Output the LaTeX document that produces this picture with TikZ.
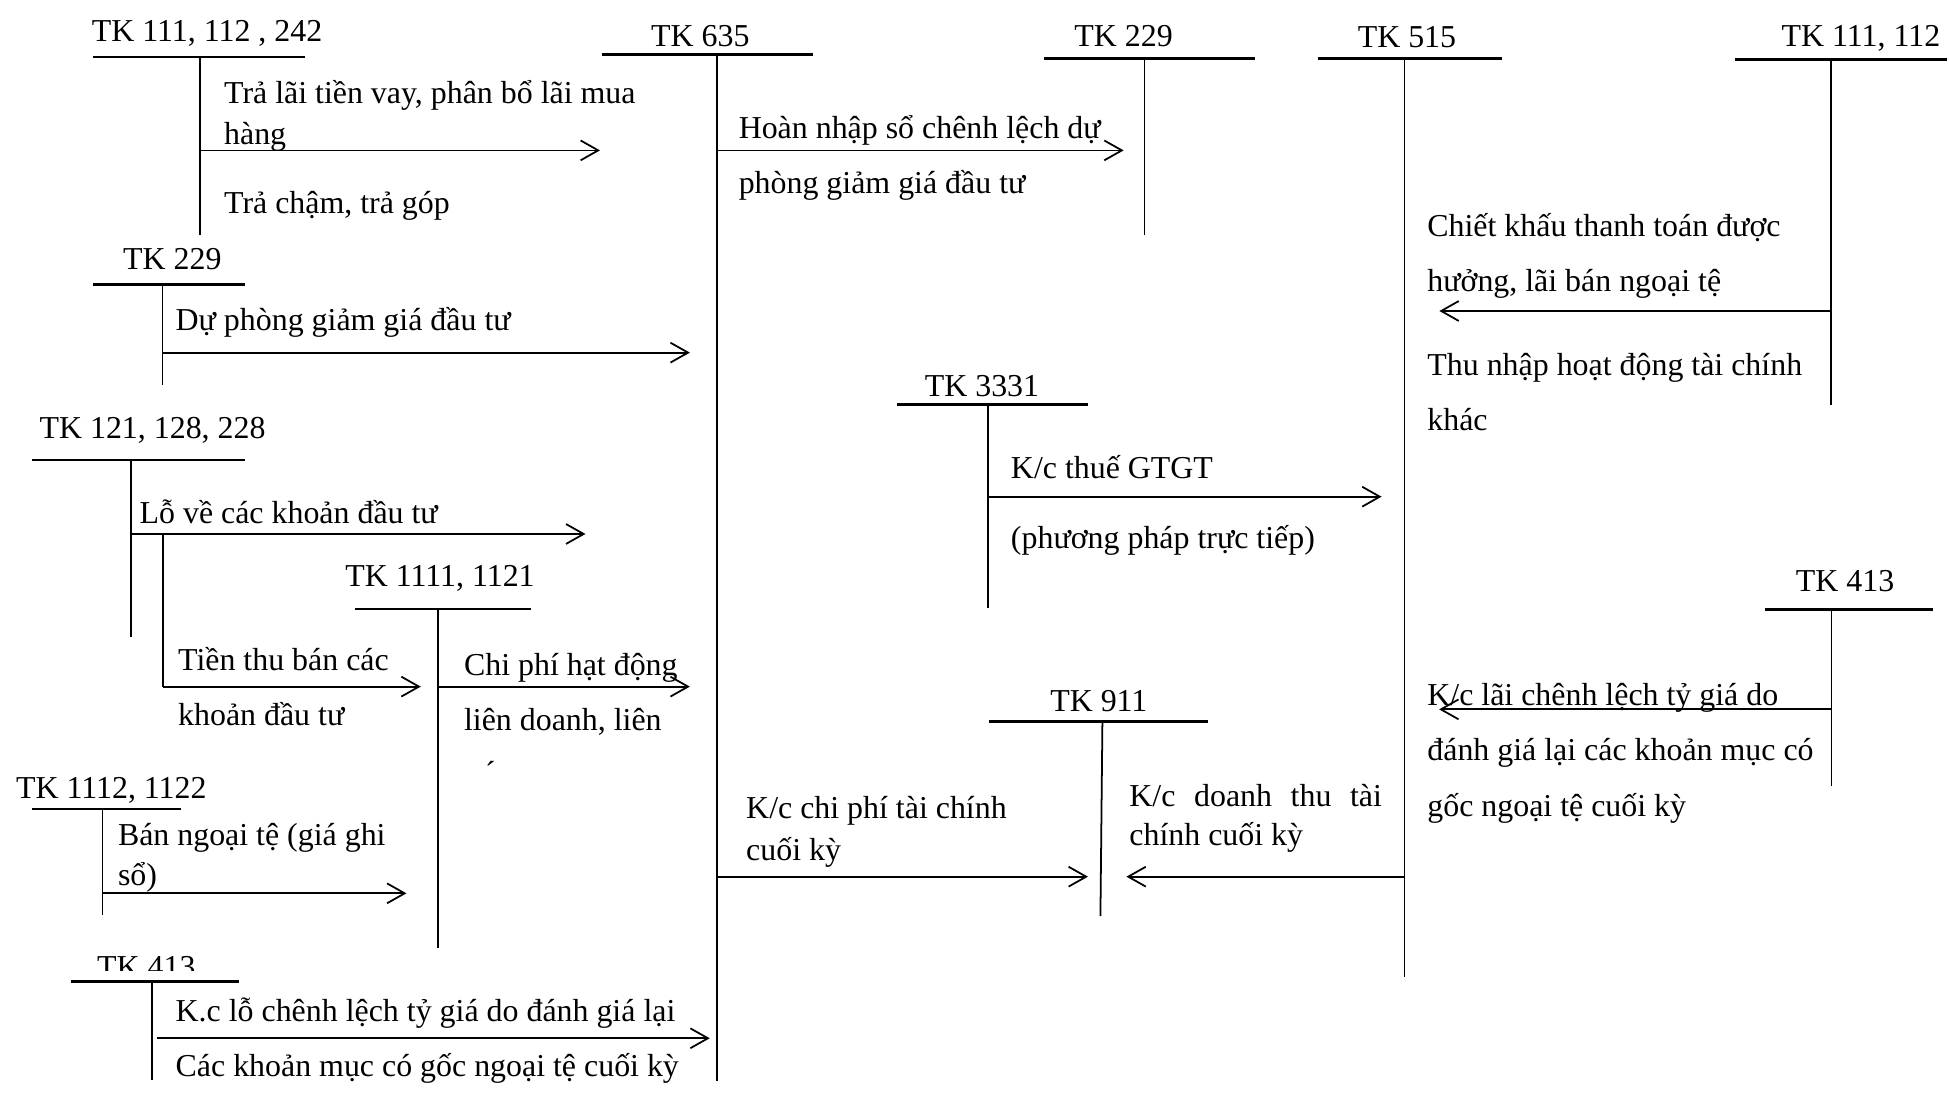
\documentclass[tikz,border=0pt]{standalone}
\usepackage{fontspec}
\setmainfont{Liberation Serif}
\usetikzlibrary{arrows.meta}
\begin{document}
\begin{tikzpicture}[x=0.6pt,y=-0.6pt,
  bar/.style={line width=1.2pt},
  stem/.style={line width=0.85pt},
  flow/.style={line width=0.85pt,-{Straight Barb[length=8.5pt,width=9.6pt,line width=0.85pt]}},
  txt/.style={anchor=base west,inner sep=0pt,yshift=-0.9pt,font=\fontsize{15.4}{18}\selectfont},
]
\useasboundingbox (0,0) rectangle (1568,879);

% T-account: name, stem x, bar y, stem bottom, bar left, bar right
\newcommand\tacct[6]{%
  \coordinate (#1) at (#2,#3);
  \draw[bar] (#5,#3) -- (#6,#3);
  \draw[stem] (#1) -- (#2,#4);
}

% ---- account headings ----
\node[txt] (h242)  at (73.6,31.6)  {TK 111, 112 , 242};
\node[txt] (h635)  at (523.5,36)   {TK 635};
\node[txt] (h229a) at (864,36)     {TK 229};
\node[txt] (h515)  at (1092,36.7)  {TK 515};
\node[txt] (h112)  at (1433,36)    {TK 111, 112};
\node[txt] (h229b) at (98.8,215)   {TK 229};
\node[txt] (h228)  at (31.5,351)   {TK 121, 128, 228};
\node[txt] (h1121) at (277.5,470.6) {TK 1111, 1121};
\node[txt] (h1122) at (12.6,641)   {TK 1112, 1122};
\begin{scope}
  \clip (0,740) rectangle (300,781);
  \node[txt] (h413a) at (77.8,785) {TK 413};
\end{scope}
\node[txt] (h3331) at (743.7,317.8) {TK 3331};
\node[txt] (h413b) at (1444.5,474.7) {TK 413};
\node[txt] (h911)  at (844.6,571)  {TK 911};

% ---- T-accounts ----
\tacct{t242}{161}{46}{189}{75}{245}
\tacct{t635}{577}{44}{870}{484}{654}
\tacct{t229a}{920.7}{47}{189}{840}{1010}
\tacct{t515}{1130}{47}{786}{1060}{1208}
\tacct{t112}{1473}{47.7}{325.8}{1396}{1566}
\tacct{t229b}{130.8}{229}{309.7}{75}{197}
\tacct{t228}{105.5}{370}{512.7}{26}{197}
\tacct{t1121}{352.4}{490}{763}{286}{427}
\tacct{t1122}{82.4}{651}{736}{26}{146}
\tacct{t413a}{122.4}{789.8}{869}{56.8}{192.6}
\tacct{t3331}{794.6}{325.3}{489.4}{721.6}{875}
\tacct{t413b}{1473.4}{490.2}{632.4}{1419.6}{1555}
\coordinate (t911) at (886.9,580.6);
\draw[bar] (795.4,580.6) -- (971.9,580.6);
\draw[stem] (t911) -- (885.3,737);

% ---- entries ----
\draw[flow] (t242 |- 0,121) -- (482.7,121);
\node[txt] (l1a) at (180,81.8) {Trả lãi tiền vay, phân bổ lãi mua};
\node[txt] (l1b) at (180,115)  {hàng};
\node[txt] (l1c) at (180,170)  {Trả chậm, trả góp};

\draw[flow] (t635 |- 0,121) -- (904,121);
\node[txt] (l2a) at (594,110) {Hoàn nhập sổ chênh lệch dự};
\node[txt] (l2b) at (594,154) {phòng giảm giá đầu tư};

\draw[flow] (t112 |- 0,250.2) -- (1158,250.2);
\node[txt] (l3a) at (1148,189)   {Chiết khấu thanh toán được};
\node[txt] (l3b) at (1148,233.3) {hưởng, lãi bán ngoại tệ};
\node[txt] (l3c) at (1148,300.3) {Thu nhập hoạt động tài chính};
\node[txt] (l3d) at (1148,344.6) {khác};

\draw[flow] (t229b |- 0,283.7) -- (555,283.7);
\node[txt] (l4) at (141,264) {Dự phòng giảm giá đầu tư};

\draw[flow] (t228 |- 0,429.6) -- (471,429.6);
\node[txt] (l5) at (112,419.7) {Lỗ về các khoản đầu tư};
\coordinate (br) at (131.2,429.6);
\draw[stem] (br) -- (131.2,552.4);
\draw[flow] (131.2,552.4) -- (338.5,552.4);
\node[txt] (l6a) at (143,537.7) {Tiền thu bán các};
\node[txt] (l6b) at (143,582)   {khoản đầu tư};

\draw[flow] (t1121 |- 0,552.4) -- (555,552.4);
\node[txt] (l7a) at (373,541.7) {Chi phí hạt động};
\node[txt] (l7b) at (373,586)   {liên doanh, liên};
\node[txt] (l7c) at (390,629)   {´};

\draw[flow] (t1122 |- 0,718.7) -- (327,718.7);
\node[txt] (l8a) at (94.6,678.5) {Bán ngoại tệ (giá ghi};
\node[txt] (l8b) at (94.6,710.7) {sổ)};

\draw[flow] (126,835.3) -- (571,835.3);
\node[txt] (l9a) at (141,820.6) {K.c lỗ chênh lệch tỷ giá do đánh giá lại};
\node[txt] (l9b) at (141,864.8) {Các khoản mục có gốc ngoại tệ cuối kỳ};

\draw[flow] (t3331 |- 0,399.6) -- (1111.5,399.6);
\node[txt] (l10a) at (813,383.5) {K/c thuế GTGT};
\node[txt] (l10b) at (813,439.8) {(phương pháp trực tiếp)};

\draw[flow] (t413b |- 0,570.7) -- (1157.8,570.7);
\node[txt] (l11a) at (1148,565.8) {K/c lãi chênh lệch tỷ giá do};
\node[txt] (l11b) at (1148,610)   {đánh giá lại các khoản mục có};
\node[txt] (l11c) at (1148,655.7) {gốc ngoại tệ cuối kỳ};

\draw[flow] (t635 |- 0,705.3) -- (875.3,705.3);
\node[txt] (l12a) at (600,657)   {K/c chi phí tài chính};
\node[txt] (l12b) at (600,690.5) {cuối kỳ};

\draw[flow] (t515 |- 0,705.3) -- (906.2,705.3);
\node[txt] (l13a) at (908.3,647.6) {\makebox[121.9pt][s]{K/c\hfill doanh\hfill thu\hfill tài}};
\node[txt] (l13b) at (908.3,679)   {chính cuối kỳ};
\end{tikzpicture}
\end{document}
